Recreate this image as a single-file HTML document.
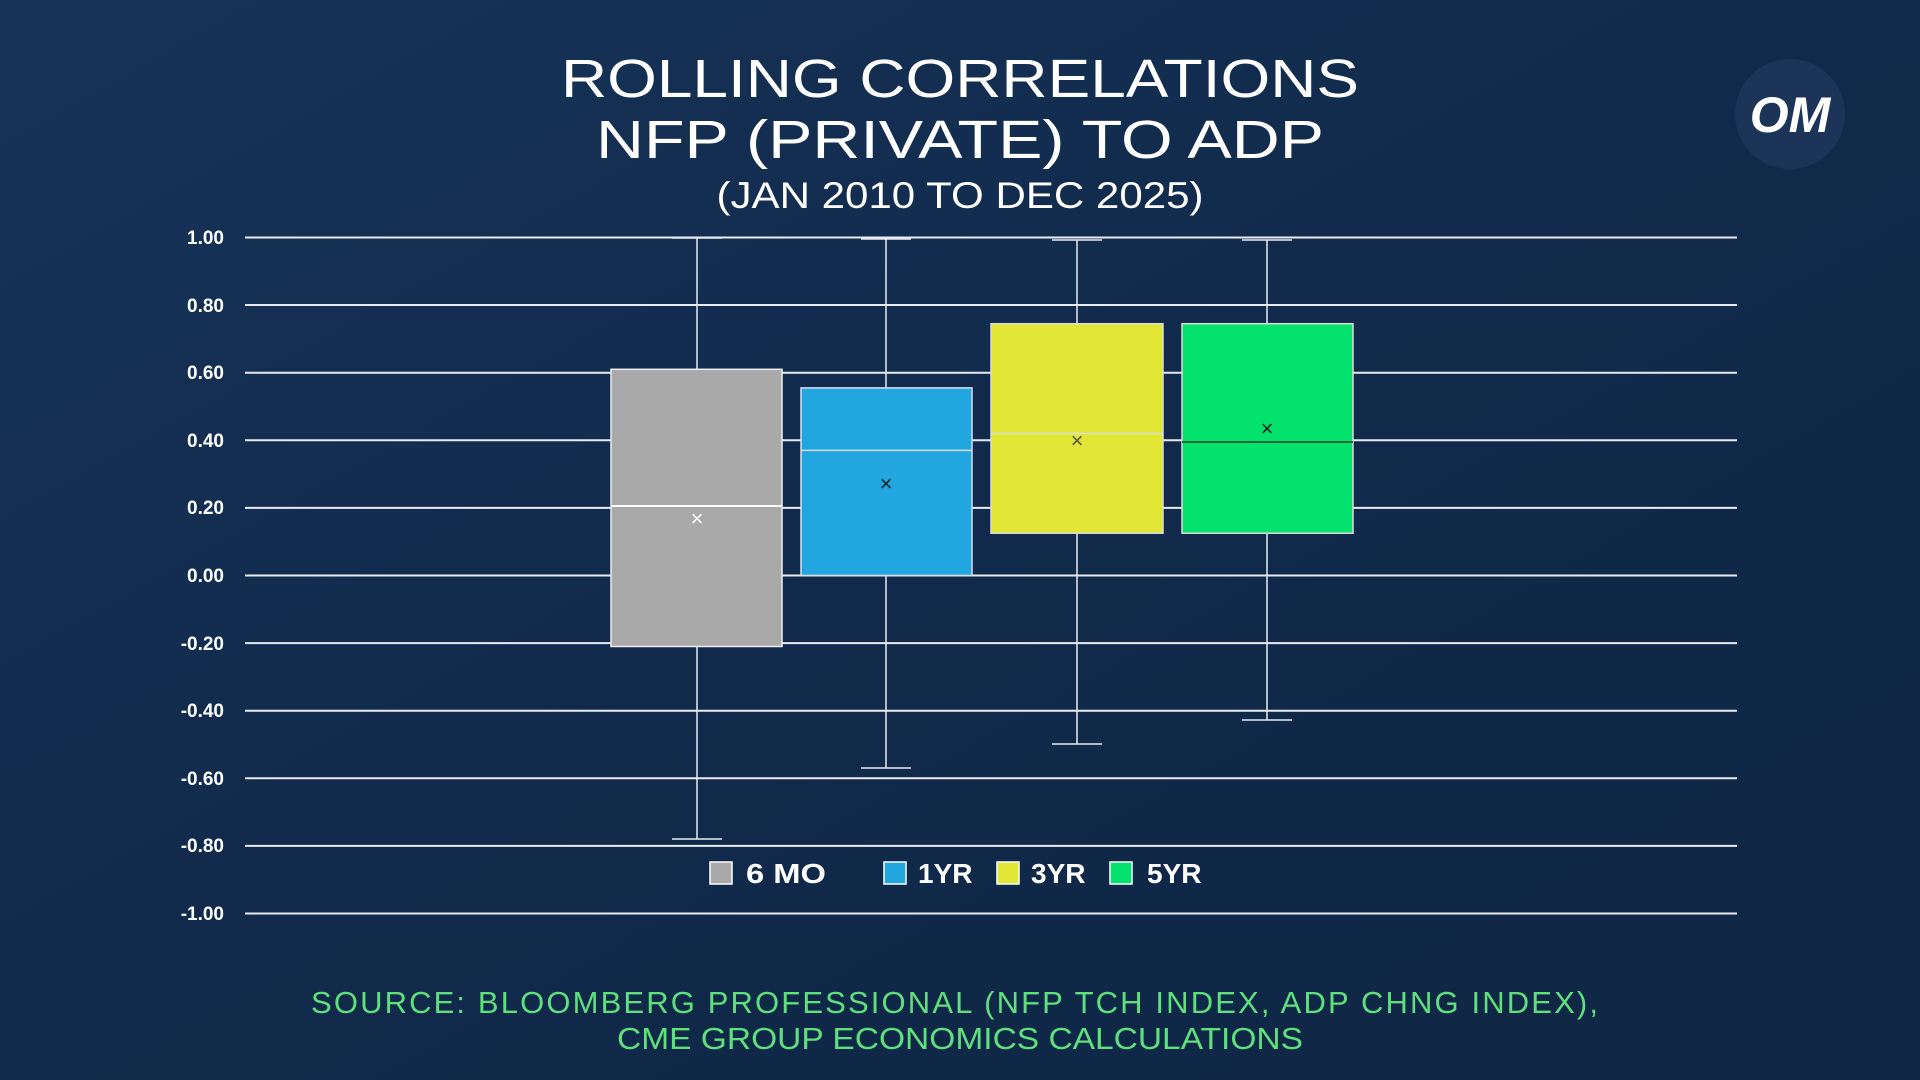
<!DOCTYPE html>
<html><head><meta charset="utf-8"><style>
html,body{margin:0;padding:0;width:1920px;height:1080px;overflow:hidden;background:#112a4a;}
svg{display:block}
</style></head><body>
<svg width="1920" height="1080" viewBox="0 0 1920 1080" xmlns="http://www.w3.org/2000/svg">
<defs>
<linearGradient id="bg" x1="0" y1="0" x2="1" y2="1">
<stop offset="0" stop-color="#163358"/><stop offset="0.5" stop-color="#112a4b"/><stop offset="1" stop-color="#0f2644"/>
</linearGradient>
</defs>
<rect width="1920" height="1080" fill="url(#bg)"/>
<g font-family="Liberation Sans, sans-serif" fill="#fff" text-anchor="middle">
<text x="960" y="97" font-size="54" textLength="798" lengthAdjust="spacingAndGlyphs">ROLLING CORRELATIONS</text>
<text x="960" y="158" font-size="54" textLength="728" lengthAdjust="spacingAndGlyphs">NFP (PRIVATE) TO ADP</text>
<text x="960" y="208" font-size="37" textLength="487" lengthAdjust="spacingAndGlyphs">(JAN 2010 TO DEC 2025)</text>
</g>
<circle cx="1790" cy="114" r="55" fill="#1c3457"/>
<text x="1790" y="132" font-family="Liberation Sans, sans-serif" font-weight="bold" font-style="italic" font-size="50" fill="#fff" text-anchor="middle">OM</text>
<g stroke="#e8ecf2" stroke-width="2">
<line x1="245" x2="1737" y1="237.5" y2="237.5"/><line x1="245" x2="1737" y1="305" y2="305"/>
<line x1="245" x2="1737" y1="372.7" y2="372.7"/><line x1="245" x2="1737" y1="440.3" y2="440.3"/>
<line x1="245" x2="1737" y1="507.9" y2="507.9"/><line x1="245" x2="1737" y1="575.5" y2="575.5"/>
<line x1="245" x2="1737" y1="643.1" y2="643.1"/><line x1="245" x2="1737" y1="710.7" y2="710.7"/>
<line x1="245" x2="1737" y1="778.3" y2="778.3"/><line x1="245" x2="1737" y1="845.9" y2="845.9"/>
<line x1="245" x2="1737" y1="913.5" y2="913.5"/>
</g>
<g font-family="Liberation Sans, sans-serif" font-weight="bold" font-size="19" fill="#fff" text-anchor="end">
<text x="224" y="244">1.00</text><text x="224" y="312">0.80</text><text x="224" y="379">0.60</text>
<text x="224" y="447">0.40</text><text x="224" y="514">0.20</text><text x="224" y="582">0.00</text>
<text x="224" y="650">-0.20</text><text x="224" y="717">-0.40</text><text x="224" y="785">-0.60</text>
<text x="224" y="852">-0.80</text><text x="224" y="920">-1.00</text>
</g>
<g stroke="#e8ecf2" stroke-width="1.5">
<line x1="697" x2="697" y1="237.5" y2="839"/><line x1="672" x2="722" y1="238" y2="238"/><line x1="672" x2="722" y1="839" y2="839"/>
<line x1="886" x2="886" y1="239" y2="768"/><line x1="861" x2="911" y1="239" y2="239"/><line x1="861" x2="911" y1="768" y2="768"/>
<line x1="1077" x2="1077" y1="240" y2="744"/><line x1="1052" x2="1102" y1="240" y2="240"/><line x1="1052" x2="1102" y1="744" y2="744"/>
<line x1="1267" x2="1267" y1="240" y2="720"/><line x1="1242" x2="1292" y1="240" y2="240"/><line x1="1242" x2="1292" y1="720" y2="720"/>
</g>
<rect x="611" y="369.3" width="171" height="277.2" fill="#a9a9a9" stroke="#eee" stroke-width="1.5"/>
<line x1="611" x2="782" y1="506" y2="506" stroke="#fff" stroke-width="2"/>
<rect x="801" y="387.9" width="171" height="187.6" fill="#22a6e0" stroke="#dde" stroke-width="1.5"/>
<line x1="801" x2="972" y1="450.4" y2="450.4" stroke="#ddd" stroke-width="1.5"/>
<rect x="991" y="323.7" width="172" height="209.5" fill="#e2e635" stroke="#ddd" stroke-width="1.5"/>
<line x1="991" x2="1163" y1="433.5" y2="433.5" stroke="#ddd" stroke-width="1.5"/>
<rect x="1182" y="323.7" width="171" height="209.5" fill="#02e26c" stroke="#ddd" stroke-width="1.5"/>
<line x1="1182" x2="1353" y1="442" y2="442" stroke="#0d3a2c" stroke-width="1.5"/>
<g font-family="Liberation Sans, sans-serif" font-size="22" text-anchor="middle">
<text x="697" y="526" fill="#fff">×</text>
<text x="886" y="491" fill="#222">×</text>
<text x="1077" y="448" fill="#555">×</text>
<text x="1267" y="436" fill="#222">×</text>
</g>
<g font-family="Liberation Sans, sans-serif" font-weight="bold" font-size="28" fill="#fff">
<rect x="710" y="862" width="22" height="22" fill="#a9a9a9" stroke="#fff" stroke-width="1.5"/><text x="746" y="883" textLength="80" lengthAdjust="spacingAndGlyphs">6 MO</text>
<rect x="884" y="862" width="22" height="22" fill="#22a6e0" stroke="#fff" stroke-width="1.5"/><text x="918" y="883">1YR</text>
<rect x="997" y="862" width="22" height="22" fill="#e2e635" stroke="#fff" stroke-width="1.5"/><text x="1031" y="883">3YR</text>
<rect x="1110" y="862" width="22" height="22" fill="#02e26c" stroke="#fff" stroke-width="1.5"/><text x="1147" y="883">5YR</text>
</g>
<g font-family="Liberation Sans, sans-serif" font-size="31" fill="#5fe07c" text-anchor="middle">
<text x="955" y="1013" textLength="1288" lengthAdjust="spacing" letter-spacing="1">SOURCE:  BLOOMBERG PROFESSIONAL (NFP TCH INDEX, ADP CHNG INDEX),</text>
<text x="960" y="1049" textLength="686" lengthAdjust="spacingAndGlyphs">CME GROUP ECONOMICS CALCULATIONS</text>
</g>
</svg>
</body></html>
